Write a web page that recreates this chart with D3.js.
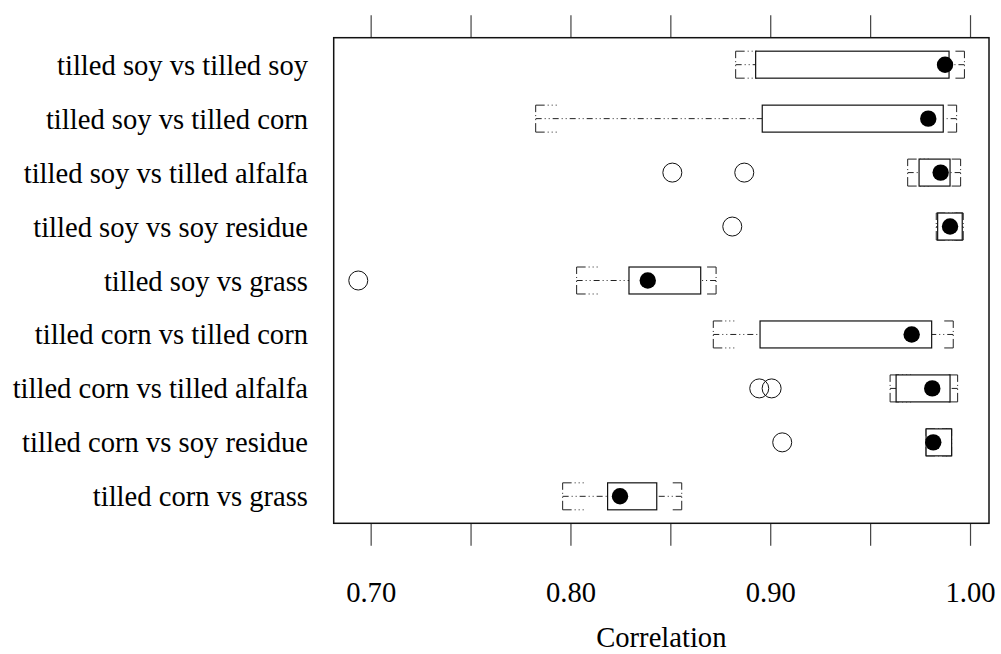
<!DOCTYPE html>
<html>
<head>
<meta charset="utf-8">
<script src="https://cdn.jsdelivr.net/npm/d3@7"></script>
<style>
  html, body { margin: 0; padding: 0; background: #fff; }
  svg { display: block; }
  text { font-family: "Liberation Serif", "Times New Roman", serif; fill: #000; }
</style>
</head>
<body>
<svg id="chart" width="1001" height="654"></svg>
<script>
// Correlation summaries per comparison (top row first)
const categories = [
  "tilled soy vs tilled soy",
  "tilled soy vs tilled corn",
  "tilled soy vs tilled alfalfa",
  "tilled soy vs soy residue",
  "tilled soy vs grass",
  "tilled corn vs tilled corn",
  "tilled corn vs tilled alfalfa",
  "tilled corn vs soy residue",
  "tilled corn vs grass"
];
const lowerWhisker = [0.8827, 0.7826, 0.9688, 0.9831, 0.8031, 0.8715, 0.9600, 0.9780, 0.7961];
const lowerQuartile = [0.8927, 0.8960, 0.9745, 0.9838, 0.8293, 0.8949, 0.9630, 0.9780, 0.8186];
const medians = [0.9875, 0.9791, 0.9853, 0.9900, 0.8387, 0.9708, 0.9811, 0.9816, 0.8248];
const upperQuartile = [0.9895, 0.9866, 0.9900, 0.9961, 0.8652, 0.9808, 0.9900, 0.9908, 0.8432];
const upperWhisker = [0.9972, 0.9933, 0.9953, 0.9966, 0.8729, 0.9916, 0.9938, 0.9908, 0.8557];
const outliers = [[], [], [0.8510, 0.8870], [0.8810], [0.6938], [], [0.8945, 0.9007], [0.9060], []];
const tickValues = [0.70, 0.75, 0.80, 0.85, 0.90, 0.95, 1.00];
const tickLabels = ["0.70", "", "0.80", "", "0.90", "", "1.00"];
const xTitle = "Correlation";

const rows = categories.map((c, i) => ({
  name: c,
  lw: lowerWhisker[i], q1: lowerQuartile[i], med: medians[i],
  q3: upperQuartile[i], uw: upperWhisker[i], out: outliers[i]
}));

const fontSize = 28.6;
const panel = { left: 333.7, right: 989, top: 37.7, bottom: 523.3 };
const svg = d3.select("#chart");

const x = d3.scaleLinear().domain([0.6815, 1.0095]).range([panel.left, panel.right]);
const y = d3.scaleBand().domain(categories).range([panel.top, panel.bottom]).padding(0);
const boxH = y.bandwidth() * 0.5;
const cy = d => y(d.name) + y.bandwidth() / 2;

// axes: ticks on top and bottom, labels only below
const tickLen = 22.5;
const bottomAxis = d3.axisBottom(x).tickValues(tickValues).tickSize(tickLen).tickFormat((d, i) => tickLabels[i]).tickPadding(36);
const topAxis = d3.axisTop(x).tickValues(tickValues).tickSize(tickLen).tickFormat(() => "");

const gb = svg.append("g").attr("transform", `translate(0,${panel.bottom})`).call(bottomAxis);
const gt = svg.append("g").attr("transform", `translate(0,${panel.top})`).call(topAxis);
[gb, gt].forEach(g => {
  g.select(".domain").remove();
  g.selectAll(".tick line").attr("stroke", "#444").attr("stroke-width", 1.2);
});
gb.selectAll(".tick text")
  .style("font-family", "'Liberation Serif', 'Times New Roman', serif")
  .style("font-size", fontSize + "px").attr("fill", "#000");

// category labels
svg.append("g").selectAll("text").data(rows).join("text")
  .attr("x", 308).attr("y", d => cy(d))
  .attr("dy", "0.35em").attr("text-anchor", "end")
  .style("font-size", fontSize + "px")
  .text(d => d.name);

// axis title
svg.append("text")
  .attr("x", (panel.left + panel.right) / 2).attr("y", 647)
  .attr("text-anchor", "middle").style("font-size", fontSize + "px")
  .text(xTitle);

// panel frame
svg.append("rect")
  .attr("x", panel.left).attr("y", panel.top)
  .attr("width", panel.right - panel.left).attr("height", panel.bottom - panel.top)
  .attr("fill", "none").attr("stroke", "#111").attr("stroke-width", 1.5);

const g = svg.append("g");
const dash = "6,3,1,3,1,3";

// whiskers from box edges to whisker ends
g.selectAll(".whisker-lo").data(rows).join("line")
  .attr("x1", d => x(d.lw)).attr("x2", d => x(d.q1))
  .attr("y1", cy).attr("y2", cy)
  .attr("stroke", "#222").attr("stroke-width", 1).attr("stroke-dasharray", dash);
g.selectAll(".whisker-hi").data(rows).join("line")
  .attr("x1", d => x(d.uw)).attr("x2", d => x(d.q3))
  .attr("y1", cy).attr("y2", cy)
  .attr("stroke", "#222").attr("stroke-width", 1).attr("stroke-dasharray", dash);

// bracket-shaped whisker caps
function bracket(d, v, arm) {
  const xe = x(v), t = cy(d) - boxH / 2, b = cy(d) + boxH / 2;
  return [
    `M${xe},${t}L${xe + arm},${t}`,
    `M${xe},${b}L${xe},${t}`,
    `M${xe},${b}L${xe + arm},${b}`
  ];
}
rows.forEach(d => {
  const paths = bracket(d, d.lw, 21).concat(bracket(d, d.uw, -10));
  g.append("g").selectAll("path").data(paths).join("path")
    .attr("d", p => p).attr("fill", "none")
    .attr("stroke", "#222").attr("stroke-width", 1).attr("stroke-dasharray", "9,3,1,3,1,3");
});

// boxes
g.selectAll(".box").data(rows).join("rect")
  .attr("x", d => x(d.q1)).attr("width", d => x(d.q3) - x(d.q1))
  .attr("y", d => cy(d) - boxH / 2).attr("height", boxH)
  .attr("fill", "#fff").attr("stroke", "#111").attr("stroke-width", 1.2);

// outliers
rows.forEach(d => {
  g.append("g").selectAll("circle").data(d.out).join("circle")
    .attr("cx", v => x(v)).attr("cy", cy(d)).attr("r", 9.5)
    .attr("fill", "none").attr("stroke", "#111").attr("stroke-width", 1);
});

// medians
g.selectAll(".median").data(rows).join("circle")
  .attr("cx", d => x(d.med)).attr("cy", cy).attr("r", 8.2)
  .attr("fill", "#000");
</script>
</body>
</html>
